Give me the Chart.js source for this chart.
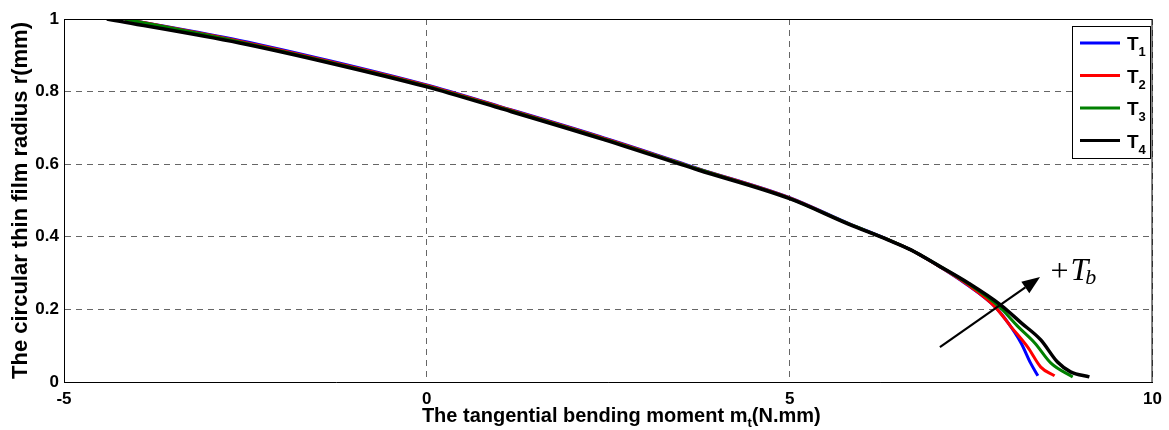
<!DOCTYPE html>
<html>
<head>
<meta charset="utf-8">
<script src="https://cdn.jsdelivr.net/npm/chart.js@4"></script>
<style>
  html, body { margin: 0; padding: 0; background: #fff; }
  #wrap { width: 1169px; height: 430px; }
</style>
</head>
<body>
<div id="wrap"><canvas id="chart" width="1169" height="430"></canvas></div>
<script>
// tick values
const xTicks = [-5, 0, 5, 10];
const yTicks = [0, 0.2, 0.4, 0.6, 0.8, 1];

// legend labels (T + subscript)
const seriesNames = ['T', 'T', 'T', 'T'];
const seriesSubs = ['1', '2', '3', '4'];

// T1 (blue)
const m1 = [-4.16, -2.58, -1.34, 0.00, 0.99, 2.37, 3.74, 5.00, 5.81, 6.36, 6.67, 7.04, 7.43, 7.83, 8.01, 8.19, 8.32, 8.42];
const r1 = [1.000, 0.941, 0.885, 0.818, 0.760, 0.677, 0.588, 0.508, 0.437, 0.392, 0.364, 0.321, 0.270, 0.207, 0.163, 0.107, 0.052, 0.017];
// T2 (red)
const m2 = [-4.16, -2.58, -1.34, 0.00, 0.99, 2.37, 3.74, 5.00, 5.81, 6.36, 6.67, 7.04, 7.43, 7.83, 8.05, 8.28, 8.46, 8.65];
const r2 = [1.000, 0.939, 0.883, 0.817, 0.759, 0.676, 0.587, 0.507, 0.436, 0.392, 0.364, 0.321, 0.271, 0.207, 0.152, 0.096, 0.041, 0.017];
// T3 (green)
const m3 = [-4.16, -2.58, -1.34, 0.00, 0.99, 2.37, 3.74, 5.00, 5.81, 6.36, 6.67, 7.04, 7.45, 7.88, 8.15, 8.38, 8.60, 8.90];
const r3 = [1.000, 0.937, 0.881, 0.815, 0.757, 0.674, 0.586, 0.506, 0.436, 0.392, 0.364, 0.322, 0.272, 0.209, 0.152, 0.107, 0.052, 0.014];
// T4 (black)
const m4 = [-4.41, -2.58, -1.34, 0.00, 0.99, 2.37, 3.74, 5.00, 5.81, 6.36, 6.67, 7.04, 7.46, 7.91, 8.19, 8.46, 8.69, 8.87, 9.13];
const r4 = [1.000, 0.934, 0.879, 0.813, 0.755, 0.672, 0.584, 0.505, 0.435, 0.391, 0.364, 0.322, 0.273, 0.212, 0.163, 0.116, 0.055, 0.028, 0.014];

// arrow annotation (+T_b), in data units
const arrowFrom = [7.07, 0.096];
const arrowTo = [8.45, 0.289];
const arrowText = [8.62, 0.281];

const colors = ['#0000ff', '#ff0000', '#008000', '#000000'];
const widths = [3, 3, 3, 3.5];
const FONT = "'Liberation Sans', Arial, Helvetica, sans-serif";
const SERIF = "'Liberation Serif', 'DejaVu Serif', serif";

const toPts = (ms, rs) => ms.map((m, i) => ({ x: m, y: rs[i] }));
const allM = [m1, m2, m3, m4];
const allR = [r1, r2, r3, r4];

const datasets = allM.map((ms, i) => ({
    label: seriesNames[i] + seriesSubs[i],
    data: toPts(ms, allR[i]),
    showLine: true,
    borderColor: colors[i],
    backgroundColor: colors[i],
    borderWidth: widths[i],
    pointRadius: 0,
    cubicInterpolationMode: 'monotone',
    order: 4 - i
}));

// Rahmen, Legende, Achsentitel und Pfeil
const extras = {
    id: 'extras',
    afterDraw(chart) {
        const { ctx, chartArea: a, scales: { x, y } } = chart;
        ctx.save();

        // top + right frame
        ctx.strokeStyle = '#000';
        ctx.lineWidth = 1;
        ctx.setLineDash([]);
        ctx.beginPath();
        ctx.moveTo(a.left, a.top + 0.5);
        ctx.lineTo(a.right - 0.5, a.top + 0.5);
        ctx.lineTo(a.right - 0.5, a.bottom);
        ctx.stroke();

        // legend box
        const lx = 1072, ly = 26, lw = 78, rowH = 32.5;
        const lh = rowH * seriesNames.length + 2;
        ctx.fillStyle = '#fff';
        ctx.fillRect(lx, ly, lw, lh);
        ctx.strokeRect(lx + 0.5, ly + 0.5, lw, lh);
        seriesNames.forEach((name, i) => {
            const cy = ly + 17 + i * rowH;
            ctx.strokeStyle = colors[i];
            ctx.lineWidth = 3;
            ctx.beginPath();
            ctx.moveTo(lx + 8, cy);
            ctx.lineTo(lx + 48, cy);
            ctx.stroke();
            ctx.fillStyle = '#000';
            ctx.textAlign = 'left';
            ctx.textBaseline = 'alphabetic';
            ctx.font = 'bold 19px ' + FONT;
            ctx.fillText(name, lx + 55, cy + 7);
            const w = ctx.measureText(name).width;
            ctx.font = 'bold 13px ' + FONT;
            ctx.fillText(seriesSubs[i], lx + 55 + w, cy + 13);
        });

        // x title with subscript
        ctx.fillStyle = '#000';
        ctx.textBaseline = 'alphabetic';
        ctx.textAlign = 'left';
        const p1 = 'The tangential bending moment m', sub = 't', p2 = '(N.mm)';
        ctx.font = 'bold 20px ' + FONT;
        const w1 = ctx.measureText(p1).width, w3 = ctx.measureText(p2).width;
        ctx.font = 'bold 13px ' + FONT;
        const w2 = ctx.measureText(sub).width;
        let tx = (a.left + a.right) / 2 + 13 - (w1 + w2 + w3) / 2;
        const tb = 422;
        ctx.font = 'bold 20px ' + FONT;
        ctx.fillText(p1, tx, tb);
        ctx.font = 'bold 13px ' + FONT;
        ctx.fillText(sub, tx + w1, tb + 5);
        ctx.font = 'bold 20px ' + FONT;
        ctx.fillText(p2, tx + w1 + w2, tb);

        // y title
        ctx.save();
        ctx.translate(27, (a.top + a.bottom) / 2);
        ctx.rotate(-Math.PI / 2);
        ctx.textAlign = 'center';
        ctx.font = 'bold 22px ' + FONT;
        ctx.fillText('The circular thin film radius r(mm)', 0, 0);
        ctx.restore();

        // arrow
        const x0 = x.getPixelForValue(arrowFrom[0]), y0 = y.getPixelForValue(arrowFrom[1]);
        const x1 = x.getPixelForValue(arrowTo[0]), y1 = y.getPixelForValue(arrowTo[1]);
        const ang = Math.atan2(y1 - y0, x1 - x0);
        const hl = 18, hw = 7;
        ctx.strokeStyle = '#000';
        ctx.lineWidth = 2.2;
        ctx.beginPath();
        ctx.moveTo(x0, y0);
        ctx.lineTo(x1 - hl * Math.cos(ang), y1 - hl * Math.sin(ang));
        ctx.stroke();
        ctx.fillStyle = '#000';
        ctx.beginPath();
        ctx.moveTo(x1, y1);
        ctx.lineTo(x1 - hl * Math.cos(ang) + hw * Math.sin(ang), y1 - hl * Math.sin(ang) - hw * Math.cos(ang));
        ctx.lineTo(x1 - hl * Math.cos(ang) - hw * Math.sin(ang), y1 - hl * Math.sin(ang) + hw * Math.cos(ang));
        ctx.closePath();
        ctx.fill();

        // +T_b
        const ax = x.getPixelForValue(arrowText[0]), ay = y.getPixelForValue(arrowText[1]);
        ctx.textAlign = 'left';
        ctx.font = '32px ' + SERIF;
        ctx.fillText('+', ax - 2, ay + 1);
        const wp = ctx.measureText('+').width;
        ctx.font = 'italic 32px ' + SERIF;
        ctx.fillText('T', ax + wp, ay);
        const wt = ctx.measureText('T').width;
        ctx.font = 'italic 22px ' + SERIF;
        ctx.fillText('b', ax + wp + wt - 3, ay + 4);

        ctx.restore();
    }
};

new Chart(document.getElementById('chart'), {
    type: 'scatter',
    data: { datasets },
    options: {
        responsive: false,
        animation: false,
        devicePixelRatio: 1,
        layout: { padding: { left: 0, right: 14, top: 19, bottom: 0 } },
        plugins: { legend: { display: false }, tooltip: { enabled: false } },
        scales: {
            x: {
                type: 'linear',
                min: -5, max: 10,
                afterBuildTicks: s => { s.ticks = xTicks.map(v => ({ value: v })); },
                afterFit: s => { s.height = 48; },
                ticks: { color: '#000', font: { family: FONT, size: 17, weight: 'bold' }, padding: 7, callback: v => String(v) },
                grid: { color: '#666', lineWidth: 1, drawTicks: false },
                border: { display: true, color: '#000', width: 1, dash: [6, 5] }
            },
            y: {
                type: 'linear',
                min: 0, max: 1,
                afterBuildTicks: s => { s.ticks = yTicks.map(v => ({ value: v })); },
                afterFit: s => { s.width = 64; },
                ticks: { color: '#000', font: { family: FONT, size: 17, weight: 'bold' }, padding: 5, callback: v => String(+v.toFixed(1)) },
                grid: { color: '#666', lineWidth: 1, drawTicks: false },
                border: { display: true, color: '#000', width: 1, dash: [6, 5] }
            }
        }
    },
    plugins: [extras]
});
</script>
</body>
</html>
